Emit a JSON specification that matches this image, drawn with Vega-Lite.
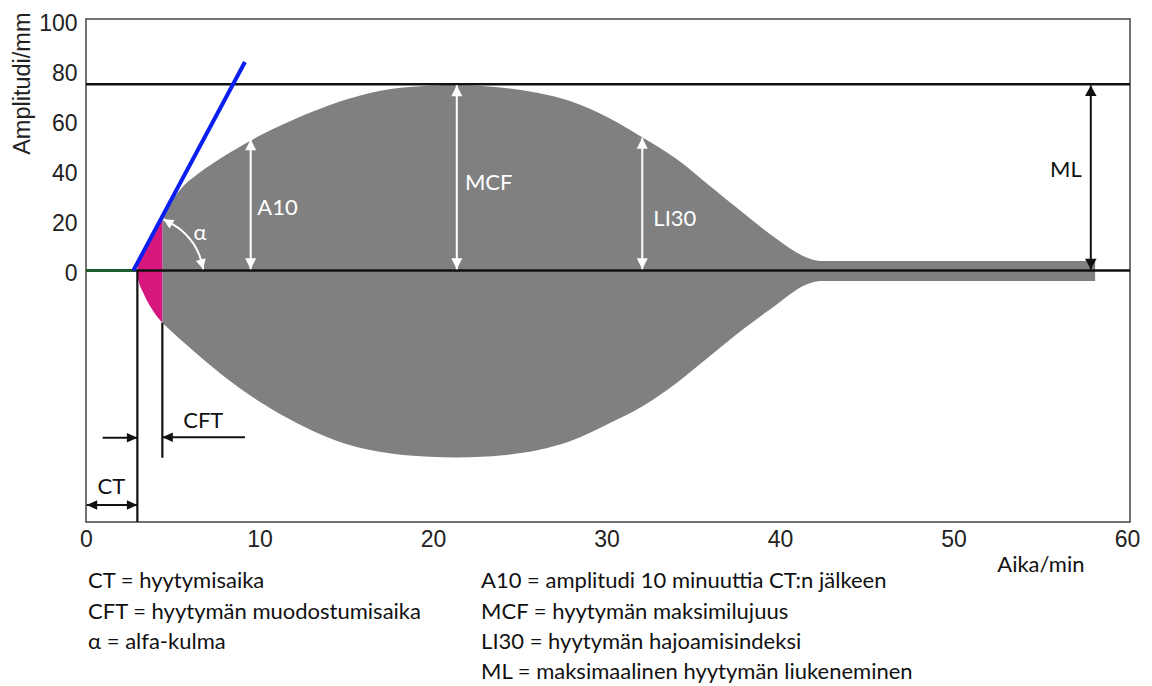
{
  "$schema": "https://vega.github.io/schema/vega-lite/v6.json",
  "width": 1044,
  "height": 503,
  "autosize": {"type": "none"},
  "padding": {"left": 86, "top": 19, "right": 22, "bottom": 164},
  "background": "white",
  "config": {
    "view": {"stroke": "#444444", "strokeWidth": 1.5},
    "axis": {"grid": false, "ticks": false, "domain": false, "labelFont": "Liberation Sans", "labelFontSize": 23, "labelColor": "#222222", "labelOverlap": false, "labelFlush": false}
  },
  "datasets": {
    "envelope": [
      {"seg": "cft", "t": 2.96, "a": 3.0, "a2": 0},
      {"seg": "cft", "t": 3.0, "a": 3.5, "a2": -3.0},
      {"seg": "cft", "t": 3.3, "a": 7.4, "a2": -8.9},
      {"seg": "cft", "t": 3.69, "a": 12.5, "a2": -14.2},
      {"seg": "cft", "t": 4.07, "a": 17.4, "a2": -18.2},
      {"seg": "cft", "t": 4.4, "a": 21.7, "a2": -20.9},
      {"seg": "clot", "t": 4.4, "a": 21.7, "a2": -20.9},
      {"seg": "clot", "t": 5.0, "a": 28.4, "a2": -24.8},
      {"seg": "clot", "t": 5.59, "a": 33.6, "a2": -28.5},
      {"seg": "clot", "t": 6.38, "a": 38.3, "a2": -33.3},
      {"seg": "clot", "t": 7.32, "a": 42.9, "a2": -38.8},
      {"seg": "clot", "t": 8.3, "a": 47.2, "a2": -44.2},
      {"seg": "clot", "t": 9.34, "a": 51.4, "a2": -49.4},
      {"seg": "clot", "t": 10.2, "a": 54.6, "a2": -53.3},
      {"seg": "clot", "t": 11.18, "a": 57.9, "a2": -57.4},
      {"seg": "clot", "t": 12.14, "a": 60.9, "a2": -61.0},
      {"seg": "clot", "t": 13.08, "a": 63.6, "a2": -64.2},
      {"seg": "clot", "t": 14.06, "a": 66.2, "a2": -67.1},
      {"seg": "clot", "t": 15.04, "a": 68.5, "a2": -69.5},
      {"seg": "clot", "t": 16.37, "a": 71.0, "a2": -71.8},
      {"seg": "clot", "t": 17.3, "a": 72.3, "a2": -72.9},
      {"seg": "clot", "t": 18.27, "a": 73.2, "a2": -73.8},
      {"seg": "clot", "t": 19.8, "a": 73.9, "a2": -74.5},
      {"seg": "clot", "t": 21.38, "a": 74.1, "a2": -74.8},
      {"seg": "clot", "t": 22.8, "a": 73.8, "a2": -74.5},
      {"seg": "clot", "t": 24.03, "a": 73.1, "a2": -73.9},
      {"seg": "clot", "t": 26.0, "a": 71.1, "a2": -71.9},
      {"seg": "clot", "t": 27.9, "a": 67.8, "a2": -68.3},
      {"seg": "clot", "t": 30.2, "a": 60.8, "a2": -61.0},
      {"seg": "clot", "t": 32.1, "a": 53.1, "a2": -54.2},
      {"seg": "clot", "t": 34.06, "a": 44.5, "a2": -44.9},
      {"seg": "clot", "t": 35.96, "a": 33.8, "a2": -34.2},
      {"seg": "clot", "t": 37.87, "a": 23.1, "a2": -23.5},
      {"seg": "clot", "t": 39.83, "a": 12.5, "a2": -13.5},
      {"seg": "clot", "t": 41.33, "a": 5.8, "a2": -6.2},
      {"seg": "clot", "t": 41.85, "a": 4.4, "a2": -4.8},
      {"seg": "clot", "t": 42.3, "a": 3.8, "a2": -4.2},
      {"seg": "clot", "t": 58.16, "a": 3.8, "a2": -4.2}
    ],
    "hlines": [
      {"name": "zero", "t": 0, "t2": 60.17, "a": 0},
      {"name": "mcf", "t": 0, "t2": 60.17, "a": 74.5}
    ],
    "baseline": [
      {"t": 0, "t2": 2.73, "a": 0}
    ],
    "tangent": [
      {"t": 2.73, "a": 0},
      {"t": 9.16, "a": 83.4}
    ],
    "vlines": [
      {"name": "CT", "t": 2.96, "a": -100.6, "a2": 0},
      {"name": "CFT", "t": 4.4, "a": -74.9, "a2": -20.9}
    ],
    "varrows": [
      {"name": "A10", "t": 9.49, "a": 0.5, "a2": 52.5},
      {"name": "MCF", "t": 21.37, "a": 0.5, "a2": 74.1},
      {"name": "LI30", "t": 32.06, "a": 0.5, "a2": 53.1},
      {"name": "ML", "t": 57.91, "a": 0.5, "a2": 74.0}
    ],
    "harrows": [
      {"name": "CT", "t": 0.04, "t2": 2.96, "a": -93.8},
      {"name": "CTin", "t": 0.96, "t2": 2.96, "a": -66.9},
      {"name": "CFT", "t": 4.4, "t2": 9.16, "a": -66.7}
    ],
    "arc": [
      {"t": 4.46, "a": 20.5},
      {"t": 4.96, "a": 18.6},
      {"t": 5.48, "a": 16.2},
      {"t": 5.94, "a": 13.0},
      {"t": 6.34, "a": 9.0},
      {"t": 6.57, "a": 5.4},
      {"t": 6.76, "a": 0.5}
    ],
    "labels": [
      {"text": "A10", "t": 9.87, "a": 25.1},
      {"text": "MCF", "t": 21.84, "a": 34.9},
      {"text": "LI30", "t": 32.7, "a": 20.5},
      {"text": "α", "t": 6.57, "a": 15.1},
      {"text": "ML", "t": 57.39, "a": 40.2},
      {"text": "CT", "t": 1.46, "a": -86.7},
      {"text": "CFT", "t": 6.76, "a": -60.2}
    ],
    "legend": [
      {"text": "CT = hyytymisaika", "t": 0.12, "a": -124.2},
      {"text": "CFT = hyytymän muodostumisaika", "t": 0.12, "a": -136.6},
      {"text": "α = alfa-kulma", "t": 0.12, "a": -148.6},
      {"text": "A10 = amplitudi 10 minuuttia CT:n jälkeen", "t": 22.77, "a": -124.2},
      {"text": "MCF = hyytymän maksimilujuus", "t": 22.77, "a": -136.6},
      {"text": "LI30 = hyytymän hajoamisindeksi", "t": 22.77, "a": -148.6},
      {"text": "ML = maksimaalinen hyytymän liukeneminen", "t": 22.77, "a": -160.6}
    ]
  },
  "encoding": {
    "x": {
      "field": "t", "type": "quantitative",
      "scale": {"domain": [0, 60.17], "nice": false, "zero": false},
      "axis": {"title": "Aika/min", "values": [0, 10, 20, 30, 40, 50, 60], "labelPadding": 6, "titleFont": "Lato", "titleFontSize": 22, "titleFontWeight": "normal", "titleColor": "#111111", "titleX": 998, "titleY": 42, "titleAlign": "right", "titleBaseline": "middle"}
    },
    "y": {
      "field": "a", "type": "quantitative",
      "scale": {"domain": [-100.6, 100.6], "nice": false, "zero": false},
      "axis": {"title": "Amplitudi/mm", "values": [0, 20, 40, 60, 80, 100], "labelPadding": 9, "labelOffset": 3, "titleFont": "Liberation Sans", "titleFontSize": 23.5, "titleFontWeight": "normal", "titleColor": "#222222", "titleAngle": -90, "titleX": -64, "titleY": -7, "titleAlign": "right", "titleBaseline": "middle"}
    }
  },
  "layer": [
    {
      "data": {"name": "envelope"},
      "transform": [{"filter": "datum.seg === 'clot'"}],
      "mark": {"type": "area", "color": "#808080", "interpolate": "monotone", "opacity": 1},
      "encoding": {"y2": {"field": "a2"}}
    },
    {
      "data": {"name": "envelope"},
      "transform": [{"filter": "datum.seg === 'cft'"}],
      "mark": {"type": "area", "color": "#D6177E", "interpolate": "monotone", "opacity": 1},
      "encoding": {"y2": {"field": "a2"}}
    },
    {
      "data": {"name": "hlines"},
      "mark": {"type": "rule", "color": "#111111", "strokeWidth": 2.3},
      "encoding": {"x2": {"field": "t2"}}
    },
    {
      "data": {"name": "baseline"},
      "mark": {"type": "rule", "color": "#1E5C2E", "strokeWidth": 3},
      "encoding": {"x2": {"field": "t2"}}
    },
    {
      "data": {"name": "tangent"},
      "mark": {"type": "line", "color": "#0A1EF2", "strokeWidth": 4, "strokeCap": "butt"},
      "encoding": {}
    },
    {
      "data": {"name": "vlines"},
      "mark": {"type": "rule", "color": "#111111", "strokeWidth": 2.2},
      "encoding": {"y2": {"field": "a2"}}
    },
    {
      "data": {"name": "varrows"},
      "transform": [{"filter": "datum.name !== 'ML'"}],
      "mark": {"type": "rule", "color": "white", "strokeWidth": 2},
      "encoding": {"y2": {"field": "a2"}}
    },
    {
      "data": {"name": "varrows"},
      "transform": [{"filter": "datum.name === 'ML'"}],
      "mark": {"type": "rule", "color": "#111111", "strokeWidth": 2},
      "encoding": {"y2": {"field": "a2"}}
    },
    {
      "data": {"name": "varrows"},
      "transform": [{"filter": "datum.name !== 'ML'"}],
      "mark": {"type": "point", "shape": "M0,0L-0.5,1L0.5,1Z", "filled": true, "color": "white", "opacity": 1, "size": 484, "strokeWidth": 0},
      "encoding": {"y": {"field": "a2", "type": "quantitative", "scale": {"domain": [-100.6, 100.6], "nice": false, "zero": false}, "title": "Amplitudi/mm"}}
    },
    {
      "data": {"name": "varrows"},
      "transform": [{"filter": "datum.name !== 'ML'"}],
      "mark": {"type": "point", "shape": "M0,0L-0.5,-1L0.5,-1Z", "filled": true, "color": "white", "opacity": 1, "size": 484, "strokeWidth": 0},
      "encoding": {}
    },
    {
      "data": {"name": "varrows"},
      "transform": [{"filter": "datum.name === 'ML'"}],
      "mark": {"type": "point", "shape": "M0,0L-0.55,1L0.55,1Z", "filled": true, "color": "#111111", "opacity": 1, "size": 441, "strokeWidth": 0},
      "encoding": {"y": {"field": "a2", "type": "quantitative", "scale": {"domain": [-100.6, 100.6], "nice": false, "zero": false}, "title": "Amplitudi/mm"}}
    },
    {
      "data": {"name": "varrows"},
      "transform": [{"filter": "datum.name === 'ML'"}],
      "mark": {"type": "point", "shape": "M0,0L-0.55,-1L0.55,-1Z", "filled": true, "color": "#111111", "opacity": 1, "size": 441, "strokeWidth": 0},
      "encoding": {}
    },
    {
      "data": {"name": "harrows"},
      "mark": {"type": "rule", "color": "#111111", "strokeWidth": 2},
      "encoding": {"x2": {"field": "t2"}}
    },
    {
      "data": {"name": "harrows"},
      "transform": [{"filter": "datum.name === 'CT' || datum.name === 'CFT'"}],
      "mark": {"type": "point", "shape": "M0,0L1,-0.45L1,0.45Z", "filled": true, "color": "#111111", "opacity": 1, "size": 441, "strokeWidth": 0},
      "encoding": {}
    },
    {
      "data": {"name": "harrows"},
      "transform": [{"filter": "datum.name === 'CT' || datum.name === 'CTin'"}],
      "mark": {"type": "point", "shape": "M0,0L-1,-0.45L-1,0.45Z", "filled": true, "color": "#111111", "opacity": 1, "size": 441, "strokeWidth": 0},
      "encoding": {"x": {"field": "t2", "type": "quantitative", "scale": {"domain": [0, 60.17], "nice": false, "zero": false}, "title": "Aika/min"}}
    },
    {
      "data": {"name": "arc"},
      "mark": {"type": "line", "color": "white", "strokeWidth": 2, "interpolate": "monotone"},
      "encoding": {}
    },
    {
      "data": {"name": "arc"},
      "transform": [{"filter": "datum.a > 20"}],
      "mark": {"type": "point", "shape": "M0,0L-0.5,1L0.5,1Z", "angle": 300, "filled": true, "color": "white", "opacity": 1, "size": 400, "strokeWidth": 0},
      "encoding": {}
    },
    {
      "data": {"name": "arc"},
      "transform": [{"filter": "datum.a < 1"}],
      "mark": {"type": "point", "shape": "M0,0L-0.5,1L0.5,1Z", "angle": 165, "filled": true, "color": "white", "opacity": 1, "size": 400, "strokeWidth": 0},
      "encoding": {}
    },
    {
      "data": {"name": "labels"},
      "transform": [{"filter": "datum.text === 'A10' || datum.text === 'MCF' || datum.text === 'LI30'"}],
      "mark": {"type": "text", "color": "white", "font": "Lato", "fontSize": 22, "align": "left", "baseline": "middle"},
      "encoding": {"text": {"field": "text"}}
    },
    {
      "data": {"name": "labels"},
      "transform": [{"filter": "datum.text === 'α'"}],
      "mark": {"type": "text", "color": "white", "font": "Lato", "fontSize": 22, "align": "center", "baseline": "middle"},
      "encoding": {"text": {"field": "text"}}
    },
    {
      "data": {"name": "labels"},
      "transform": [{"filter": "datum.text === 'ML'"}],
      "mark": {"type": "text", "color": "#111111", "font": "Lato", "fontSize": 22, "align": "right", "baseline": "middle"},
      "encoding": {"text": {"field": "text"}}
    },
    {
      "data": {"name": "labels"},
      "transform": [{"filter": "datum.text === 'CT' || datum.text === 'CFT'"}],
      "mark": {"type": "text", "color": "#111111", "font": "Lato", "fontSize": 22, "align": "center", "baseline": "middle"},
      "encoding": {"text": {"field": "text"}}
    },
    {
      "data": {"name": "legend"},
      "mark": {"type": "text", "color": "#111111", "font": "Lato", "fontSize": 22, "align": "left", "baseline": "middle"},
      "encoding": {"text": {"field": "text"}}
    }
  ]
}
